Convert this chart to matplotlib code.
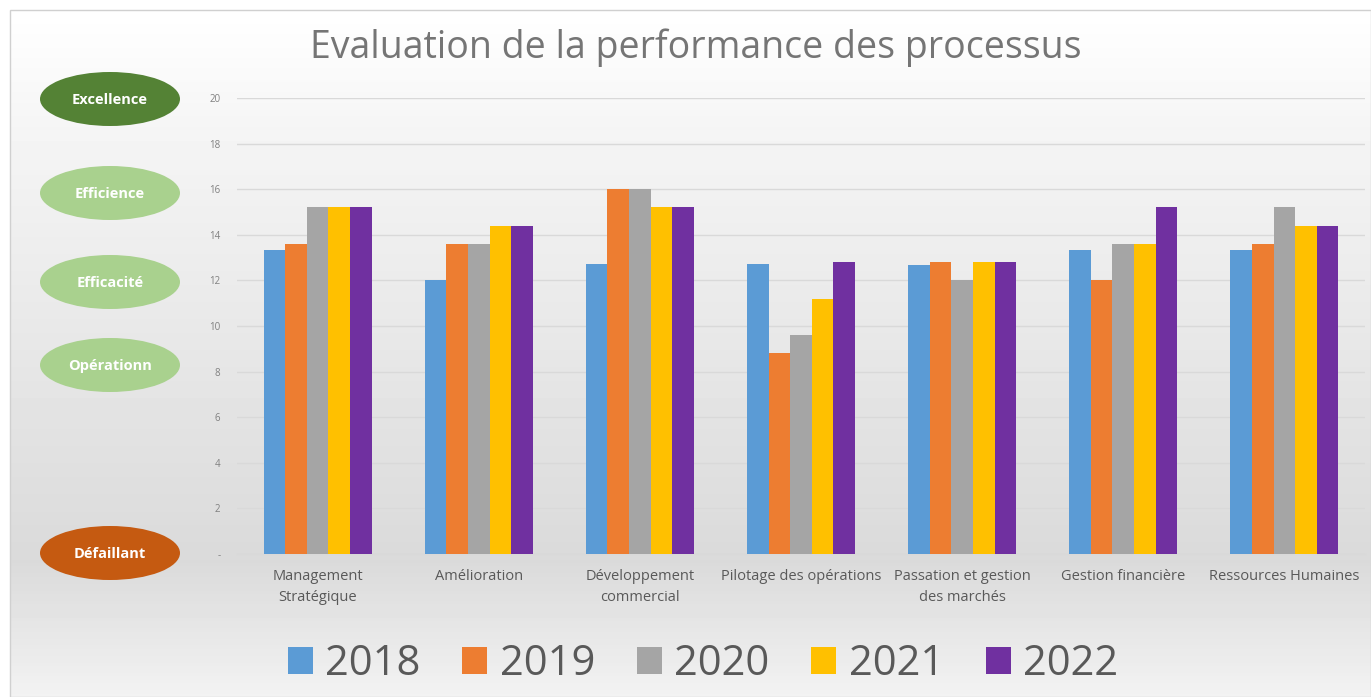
import numpy as np
import matplotlib
matplotlib.use("Agg")
import matplotlib.pyplot as plt
from matplotlib.patches import Ellipse, Rectangle

# données
categories = ["Management\nStratégique", "Amélioration", "Développement\ncommercial",
              "Pilotage des opérations", "Passation et gestion\ndes marchés",
              "Gestion financière", "Ressources Humaines"]
years = ["2018", "2019", "2020", "2021", "2022"]
v2018 = [13.33, 12.0, 12.7, 12.7, 12.67, 13.33, 13.33]
v2019 = [13.6, 13.6, 16.0, 8.8, 12.8, 12.0, 13.6]
v2020 = [15.2, 13.6, 16.0, 9.6, 12.0, 13.6, 15.2]
v2021 = [15.2, 14.4, 15.2, 11.2, 12.8, 13.6, 14.4]
v2022 = [15.2, 14.4, 15.2, 12.8, 12.8, 15.2, 14.4]
series = [v2018, v2019, v2020, v2021, v2022]
colors = ["#5B9BD5", "#ED7D31", "#A5A5A5", "#FFC000", "#7030A0"]

yticks = [0, 2, 4, 6, 8, 10, 12, 14, 16, 18, 20]
ytick_labels = ["-", "2", "4", "6", "8", "10", "12", "14", "16", "18", "20"]

# niveaux (ellipses à gauche)
levels = ["Excellence", "Efficience", "Efficacité", "Opérationn", "Défaillant"]
level_colors = ["#548235", "#A9D18E", "#A9D18E", "#A9D18E", "#C55A11"]
level_ypix = [99, 193, 282, 365, 553]

plt.rcParams['font.family'] = ['Open Sans', 'DejaVu Sans']

W, H = 1371, 697
fig = plt.figure(figsize=(W / 100, H / 100), dpi=100)

# fond dégradé
bg = fig.add_axes([0, 0, 1, 1], zorder=0)
bg.set_xlim(0, W)
bg.set_ylim(H, 0)
bg.axis("off")
yy = np.linspace(0, H, 200)
shade = np.interp(yy, [0, 120, 560, 697], [1.0, 0.96, 0.855, 0.95])
grad = np.repeat(shade[:, None], 2, axis=1)
bg.imshow(grad, extent=[10, W, H, 10], cmap="gray", vmin=0, vmax=1, aspect="auto")
bg.add_patch(Rectangle((10, 10), W - 10, H - 10, fill=False, edgecolor="#D0D0D0", lw=1))

for name, c, yp in zip(levels, level_colors, level_ypix):
    bg.add_patch(Ellipse((110, yp), 140, 54, facecolor=c, edgecolor="none"))
    bg.text(110, yp + 1, name, color="white", fontsize=10.5, fontweight="bold",
            ha="center", va="center")

bg.text(696, 48, "Evaluation de la performance des processus", fontsize=27,
        color="#757575", ha="center", va="center")

# graphique
ax = fig.add_axes([237 / W, 1 - 554 / H, (1365 - 237) / W, (554 - 98) / H], zorder=1)
ax.patch.set_alpha(0)
x = np.arange(len(categories))
bw = 0.134
handles = []
for i, (vals, col, yr) in enumerate(zip(series, colors, years)):
    b = ax.bar(x + (i - 2) * bw, vals, bw, color=col, label=yr, zorder=3)
    handles.append(b)

ax.set_xlim(-0.5, len(categories) - 0.5)
ax.set_ylim(0, 20)
ax.set_yticks(yticks)
ax.set_yticklabels(ytick_labels, fontsize=7, color="#808080")
ax.set_xticks(x)
ax.set_xticklabels(categories, fontsize=10.5, color="#595959", linespacing=1.5)
ax.tick_params(axis="both", length=0)
ax.tick_params(axis="y", pad=12)
ax.tick_params(axis="x", pad=11)
ax.grid(axis="y", color="#D9D9D9", lw=1, zorder=0)
for s in ["top", "right", "left"]:
    ax.spines[s].set_visible(False)
ax.spines["bottom"].set_color("#D9D9D9")

fig.legend(handles=handles, labels=years, loc="center", bbox_to_anchor=(703 / W, 1 - 664 / H),
           ncol=5, frameon=False, fontsize=30, handlelength=0.6, handleheight=0.6,
           columnspacing=1.0, handletextpad=0.3, labelcolor="#595959")

fig.savefig("out.png", dpi=100)
